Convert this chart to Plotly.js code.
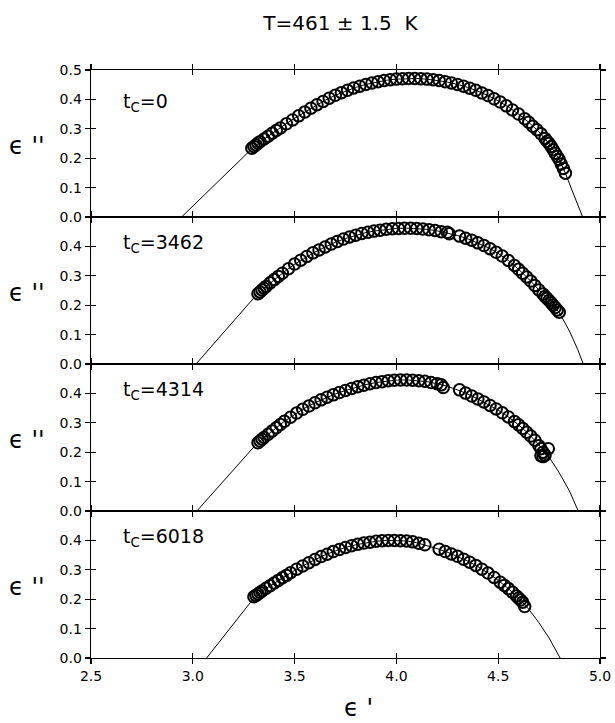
<!DOCTYPE html>
<html><head><meta charset="utf-8">
<script src="https://cdn.plot.ly/plotly-3.0.1.min.js"></script>
<style>html,body{margin:0;padding:0;background:#fff}</style>
</head><body><div id="chart" style="width:615px;height:723px"></div>
<script>
// ---- data ----
const chartTitle = "T=461 \u00b1 1.5\u00a0\u00a0K";
const xTitle = "\u03f5\u00a0'";
const yTitle = "\u03f5\u00a0''";
const panelLabels = ["t<sub>C</sub>=0", "t<sub>C</sub>=3462", "t<sub>C</sub>=4314", "t<sub>C</sub>=6018"];
const xTickVals = [2.5, 3.0, 3.5, 4.0, 4.5, 5.0];
const yTickValsTop = [0, 0.1, 0.2, 0.3, 0.4, 0.5];
const yTickValsOther = [0, 0.1, 0.2, 0.3, 0.4];

// tc = 0
const ep_tc0 = [3.29,3.30,3.31,3.32,3.33,3.35,3.37,3.39,3.41,3.43,3.46,3.49,3.52,3.55,3.58,3.61,3.64,3.67,3.70,3.73,3.76,3.79,3.82,3.85,3.88,3.91,3.94,3.97,4.00,4.03,4.06,4.09,4.12,4.15,4.18,4.21,4.24,4.27,4.30,4.33,4.36,4.39,4.42,4.45,4.48,4.51,4.54,4.57,4.60,4.63,4.65,4.67,4.69,4.71,4.73,4.74,4.75,4.76,4.77,4.78,4.79,4.80,4.81,4.82,4.83];
const epp_tc0 = [0.234,0.240,0.245,0.251,0.256,0.265,0.275,0.285,0.294,0.303,0.317,0.330,0.344,0.357,0.370,0.382,0.393,0.404,0.414,0.423,0.431,0.439,0.445,0.451,0.456,0.460,0.464,0.467,0.469,0.470,0.471,0.471,0.470,0.469,0.467,0.464,0.460,0.456,0.451,0.445,0.438,0.431,0.422,0.413,0.402,0.391,0.378,0.364,0.350,0.334,0.322,0.309,0.297,0.283,0.267,0.258,0.250,0.240,0.229,0.217,0.206,0.195,0.180,0.165,0.149];
const fitX_tc0 = [2.945,3.00,3.10,3.20,3.29,3.35,3.40,3.45,3.50,3.55,3.60,3.65,3.70,3.75,3.80,3.85,3.90,3.95,4.00,4.05,4.10,4.15,4.20,4.25,4.30,4.35,4.40,4.45,4.50,4.55,4.60,4.65,4.70,4.75,4.80,4.83,4.87,4.915];
const fitY_tc0 = [0,0.037,0.105,0.172,0.232,0.265,0.290,0.313,0.336,0.357,0.378,0.397,0.414,0.428,0.441,0.451,0.459,0.465,0.469,0.471,0.471,0.469,0.465,0.459,0.451,0.441,0.428,0.413,0.395,0.374,0.350,0.322,0.290,0.250,0.195,0.149,0.078,0];

// tc = 3462
const ep_tc3462 = [3.32,3.33,3.34,3.35,3.36,3.38,3.40,3.42,3.44,3.47,3.50,3.53,3.56,3.59,3.62,3.65,3.68,3.71,3.74,3.77,3.80,3.83,3.86,3.89,3.92,3.95,3.98,4.01,4.04,4.07,4.10,4.13,4.16,4.19,4.22,4.25,4.26,4.31,4.34,4.37,4.40,4.43,4.46,4.49,4.52,4.55,4.58,4.60,4.62,4.64,4.66,4.68,4.70,4.72,4.73,4.74,4.75,4.76,4.77,4.78,4.79,4.80];
const epp_tc3462 = [0.239,0.245,0.252,0.258,0.264,0.276,0.287,0.298,0.309,0.324,0.340,0.353,0.366,0.378,0.388,0.398,0.408,0.417,0.425,0.432,0.438,0.444,0.448,0.452,0.455,0.458,0.460,0.461,0.462,0.462,0.461,0.459,0.457,0.454,0.450,0.448,0.443,0.435,0.428,0.421,0.412,0.403,0.392,0.380,0.367,0.352,0.335,0.322,0.309,0.296,0.282,0.267,0.252,0.238,0.230,0.223,0.216,0.208,0.200,0.192,0.184,0.176];
const fitX_tc3462 = [3.016,3.10,3.20,3.30,3.35,3.40,3.45,3.50,3.55,3.60,3.65,3.70,3.75,3.80,3.85,3.90,3.95,4.00,4.05,4.10,4.15,4.20,4.25,4.30,4.35,4.40,4.45,4.50,4.55,4.60,4.65,4.70,4.75,4.80,4.85,4.89,4.918];
const fitY_tc3462 = [0,0.066,0.145,0.225,0.258,0.287,0.314,0.339,0.361,0.381,0.398,0.414,0.427,0.438,0.447,0.453,0.458,0.461,0.462,0.461,0.458,0.453,0.446,0.437,0.426,0.412,0.396,0.376,0.352,0.322,0.289,0.252,0.216,0.175,0.112,0.050,0];

// tc = 4314
const ep_tc4314 = [3.32,3.33,3.34,3.35,3.37,3.39,3.41,3.43,3.45,3.48,3.51,3.54,3.57,3.60,3.63,3.66,3.69,3.72,3.75,3.78,3.81,3.84,3.87,3.90,3.93,3.96,3.99,4.02,4.05,4.08,4.11,4.14,4.17,4.20,4.22,4.23,4.31,4.34,4.37,4.40,4.43,4.46,4.49,4.52,4.55,4.58,4.60,4.62,4.64,4.66,4.68,4.70,4.71,4.72,4.73,4.72,4.71,4.746];
const epp_tc4314 = [0.232,0.238,0.244,0.250,0.261,0.272,0.283,0.294,0.305,0.319,0.333,0.346,0.357,0.368,0.378,0.387,0.395,0.403,0.410,0.417,0.423,0.428,0.433,0.437,0.440,0.443,0.445,0.446,0.446,0.445,0.443,0.441,0.437,0.433,0.429,0.420,0.412,0.401,0.391,0.381,0.371,0.359,0.347,0.334,0.320,0.304,0.293,0.281,0.268,0.255,0.241,0.222,0.212,0.200,0.190,0.185,0.188,0.212];
const fitX_tc4314 = [3.02,3.10,3.20,3.30,3.35,3.40,3.45,3.50,3.55,3.60,3.65,3.70,3.75,3.80,3.85,3.90,3.95,4.00,4.05,4.10,4.15,4.20,4.25,4.30,4.35,4.40,4.45,4.50,4.55,4.60,4.65,4.70,4.75,4.80,4.85,4.893];
const fitY_tc4314 = [0,0.062,0.140,0.218,0.250,0.278,0.305,0.328,0.350,0.368,0.384,0.398,0.410,0.421,0.430,0.437,0.442,0.445,0.446,0.444,0.440,0.433,0.424,0.412,0.398,0.381,0.363,0.343,0.320,0.293,0.262,0.225,0.183,0.130,0.068,0];

// tc = 6018
const ep_tc6018 = [3.30,3.31,3.32,3.33,3.34,3.36,3.38,3.40,3.42,3.44,3.46,3.48,3.51,3.54,3.57,3.60,3.63,3.66,3.69,3.72,3.75,3.78,3.81,3.84,3.87,3.90,3.93,3.96,3.99,4.02,4.05,4.08,4.11,4.14,4.21,4.24,4.27,4.30,4.33,4.36,4.39,4.42,4.45,4.48,4.51,4.53,4.55,4.57,4.59,4.60,4.61,4.62,4.63];
const epp_tc6018 = [0.208,0.213,0.218,0.223,0.228,0.237,0.246,0.255,0.264,0.273,0.281,0.290,0.302,0.313,0.324,0.335,0.345,0.353,0.362,0.369,0.376,0.382,0.387,0.391,0.394,0.397,0.399,0.400,0.400,0.399,0.398,0.395,0.390,0.385,0.370,0.362,0.354,0.346,0.336,0.326,0.315,0.302,0.289,0.274,0.258,0.247,0.236,0.224,0.211,0.204,0.197,0.190,0.175];
const fitX_tc6018 = [3.068,3.10,3.20,3.30,3.35,3.40,3.45,3.50,3.55,3.60,3.65,3.70,3.75,3.80,3.85,3.90,3.95,4.00,4.05,4.10,4.15,4.20,4.25,4.30,4.35,4.40,4.45,4.50,4.55,4.60,4.65,4.70,4.75,4.804];
const fitY_tc6018 = [0,0.028,0.116,0.204,0.232,0.255,0.277,0.298,0.317,0.335,0.351,0.364,0.376,0.385,0.392,0.397,0.400,0.400,0.398,0.392,0.383,0.372,0.360,0.346,0.330,0.311,0.289,0.264,0.236,0.204,0.166,0.120,0.068,0];

// ---- build ----
const dataX = [ep_tc0, ep_tc3462, ep_tc4314, ep_tc6018];
const dataY = [epp_tc0, epp_tc3462, epp_tc4314, epp_tc6018];
const fitX = [fitX_tc0, fitX_tc3462, fitX_tc4314, fitX_tc6018];
const fitY = [fitY_tc0, fitY_tc3462, fitY_tc4314, fitY_tc6018];
const labelY = [0.39, 0.41, 0.41, 0.41];

const FONT = "DejaVu Sans, Liberation Sans, sans-serif";
const traces = [];
const layout = {
  width: 615, height: 723,
  margin: {l: 91, r: 15, t: 70, b: 65},
  paper_bgcolor: "#fff", plot_bgcolor: "#fff",
  showlegend: false,
  font: {family: FONT, color: "#000", size: 14},
  title: {text: chartTitle, font: {family: FONT, size: 20, color: "#000"},
          xref: "paper", x: 0.49, xanchor: "center", yref: "container", y: 0.968, yanchor: "middle"},
  annotations: []
};
const id = n => (n === 1 ? "" : String(n));

for (let k = 1; k <= 4; k++) {
  const top = 1 - (k - 1) * 0.25, bot = 1 - k * 0.25;
  const m = k, o = k + 4;
  traces.push({x: fitX[k-1], y: fitY[k-1], xaxis: "x" + id(m), yaxis: "y" + id(m),
    mode: "lines", line: {color: "#000", width: 1}, hoverinfo: "skip"});
  traces.push({x: dataX[k-1], y: dataY[k-1], xaxis: "x" + id(o), yaxis: "y" + id(o),
    mode: "markers", marker: {symbol: "circle-open", size: 11.5, color: "#000", line: {width: 2, color: "#000"}}});
  const common = {showgrid: false, zeroline: false, tickcolor: "#000", ticklen: 5, tickwidth: 1.3};
  layout["xaxis" + id(m)] = Object.assign({}, common, {
    domain: [0, 1], anchor: "y" + id(m), range: [2.5, 5.0], tickvals: xTickVals,
    tickformat: ".1f", ticks: "outside", mirror: "allticks", showline: true, linewidth: 1.4, linecolor: "#000",
    showticklabels: k === 4, tickfont: {size: 14}
  });
  layout["yaxis" + id(m)] = Object.assign({}, common, {
    domain: [bot, top], anchor: "x" + id(m), range: [0, 0.5],
    tickvals: k === 1 ? yTickValsTop : yTickValsOther, tickformat: ".1f",
    ticks: "outside", mirror: "allticks", showline: true, linewidth: 1.4, linecolor: "#000",
    tickfont: {size: 14}
  });
  layout["xaxis" + id(o)] = Object.assign({}, common, {
    overlaying: "x" + id(m), anchor: "y" + id(o), range: [2.5, 5.0], tickvals: xTickVals,
    ticks: "inside", mirror: "allticks", showline: false, showticklabels: false
  });
  layout["yaxis" + id(o)] = Object.assign({}, common, {
    overlaying: "y" + id(m), anchor: "x" + id(o), range: [0, 0.5],
    tickvals: yTickValsTop, ticks: "inside", mirror: "allticks", showline: false, showticklabels: false
  });
  // upright y-axis title to the left of each panel, as in the reference
  layout.annotations.push({text: yTitle, xref: "paper", yref: "y" + id(m),
    x: -0.126, y: 0.24, xanchor: "center", yanchor: "middle", showarrow: false,
    font: {family: FONT, size: 24, color: "#000"}});
  layout.annotations.push({text: panelLabels[k-1], xref: "x" + id(m), yref: "y" + id(m),
    x: 2.645, y: labelY[k-1], xanchor: "left", yanchor: "middle", showarrow: false,
    font: {family: FONT, size: 19, color: "#000"}});
}
// x-axis title, placed under the bottom panel slightly right of centre as in the reference
layout.annotations.push({text: xTitle, xref: "paper", yref: "paper",
  x: 0.525, y: -0.085, xanchor: "center", yanchor: "middle", showarrow: false,
  font: {family: FONT, size: 24, color: "#000"}});

Plotly.newPlot("chart", traces, layout, {staticPlot: true, displayModeBar: false});
</script>
</body></html>
